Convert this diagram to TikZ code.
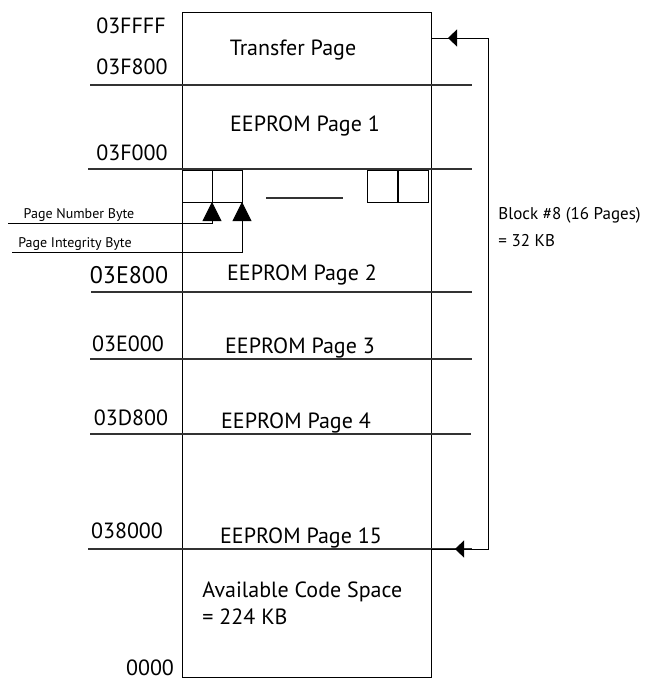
\documentclass[tikz,border=0pt]{standalone}
\usepackage{fontspec}
\setmainfont{PT Sans}
\usetikzlibrary{arrows.meta}
\tikzstyle{addr}=[anchor=base,inner sep=0pt,font=\fontsize{22}{24}\selectfont]
\tikzstyle{page}=[anchor=base,inner sep=0pt,font=\fontsize{22}{24}\selectfont]
\tikzstyle{note}=[anchor=base,inner sep=0pt,font=\fontsize{14}{16}\selectfont]
\tikzstyle{sep}=[line width=1.1pt,draw=black!80]
\tikzstyle{tipl}=[-{Triangle[length=9pt,width=17pt]}]
\tikzstyle{tipu}=[-{Triangle[length=19pt,width=19pt]}]

\begin{document}
\begin{tikzpicture}[x=1pt,y=-1pt,line width=0.9pt]
    \useasboundingbox (0,0) rectangle (652,680);
    % memory block
    \draw (182,12) rectangle (431,677);
    \foreach \y/\l/\r in {85/90/472,169/88/472,292/91/472,359/90/472,434/90/471,549/88/472}
    \draw[sep] (\l,\y) -- (\r,\y);

    % address labels
    \node[addr] (a1) at (131,34)  {03FFFF};
    \node[addr] (a2) at (132,74)  {03F800};
    \node[addr] (a3) at (132,160) {03F000};
    \node[addr,font=\fontsize{24}{26}\selectfont] (a4) at (129,283) {03E800};
    \node[addr] (a5) at (128,351) {03E000};
    \node[addr] (a6) at (131,425) {03D800};
    \node[addr] (a7) at (127,538) {038000};
    \node[addr] (a8) at (150,675) {0000};

    % pages
    \node[page] (p0) at (293,55)  {Transfer Page};
    \node[page] (p1) at (305,131) {EEPROM Page 1};
    \node[page] (p2) at (302,280) {EEPROM Page 2};
    \node[page] (p3) at (300,353) {EEPROM Page 3};
    \node[page] (p4) at (296,428) {EEPROM Page 4};
    \node[page] (p15) at (301,543) {EEPROM Page 15};
    \node[page,anchor=base west] (av1) at (202,597) {Available Code Space};
    \node[page,anchor=base west] (av2) at (202,624) {= 224 KB};

    % header bytes
    \foreach \x in {182,212,367,398}
    \draw (\x,170) rectangle ++(30,32);
    \draw[sep] (266,198) -- (343,198);
    \node[note] (nb) at (79,218) {Page Number Byte};
    \node[note] (ib) at (75,247) {Page Integrity Byte};
    \coordinate (nbl) at (8,223);
    \coordinate (ibl) at (12,252);
    \coordinate (nbt) at (212,202);
    \coordinate (ibt) at (242,202);
    \draw[tipu] (nbl) -| (nbt);
    \draw[tipu] (ibl) -| (ibt);

    % block span
    \coordinate (tr) at (431,38);
    \coordinate (rt) at (488,38);
    \coordinate (rb) at (488,549);
    \coordinate (br) at (431,549);
    \coordinate (t1) at (448,38);
    \coordinate (t2) at (455,549);
    \draw (tr) -- (rt) -- (rb) -- (br);
    \draw[tipl] (rt) -- (t1);
    \draw[tipl] (rb) -- (t2);
    \node[note,anchor=base west,font=\fontsize{17}{19}\selectfont] (blk) at (498,219) {Block \#8 (16 Pages)};
    \node[note,anchor=base west,font=\fontsize{17}{19}\selectfont] (kb) at (498,246) {= 32 KB};
\end{tikzpicture}
\end{document}
